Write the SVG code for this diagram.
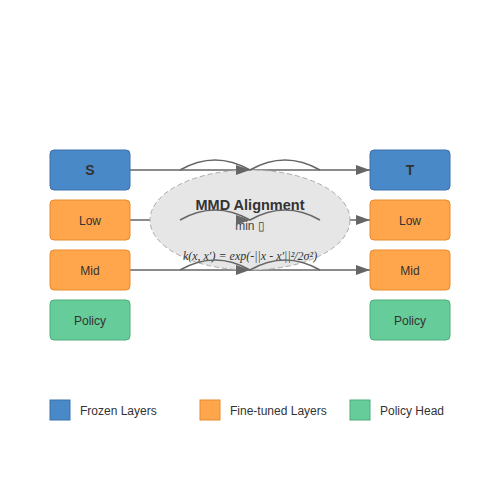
<svg xmlns="http://www.w3.org/2000/svg" width="500" height="500" viewBox="0 0 500 500">
<defs>
<marker id="arr" markerUnits="userSpaceOnUse" markerWidth="14" markerHeight="10" viewBox="0 0 14 10" refX="14" refY="5" orient="auto">
<path d="M0,0 L14,5 L0,10 z" fill="#666"/>
</marker>
</defs>
<style>
.frozen{fill:#4a89c8;stroke:#3b72ab;stroke-width:1}
.tuned{fill:#ffa64d;stroke:#e88a2c;stroke-width:1}
.policy{fill:#66cc99;stroke:#4cae7c;stroke-width:1}
.lbl{font-family:"Liberation Sans",Arial,sans-serif;font-size:12px;fill:#333;text-anchor:middle}
.big{font-size:14px;font-weight:bold}
.leg{font-family:"Liberation Sans",Arial,sans-serif;font-size:12px;fill:#333}
.conn{fill:none;stroke:#666;stroke-width:1.5}
.arc{fill:none;stroke:#666;stroke-width:1.5}
</style>
<rect width="500" height="500" fill="#fff"/>
<g id="connectors">
<line class="conn" x1="130" y1="170" x2="370" y2="170" marker-end="url(#arr)"/>
<line class="conn" x1="130" y1="220" x2="370" y2="220" marker-end="url(#arr)"/>
<line class="conn" x1="130" y1="270" x2="370" y2="270" marker-end="url(#arr)"/>
</g>
<g id="mmd">
<ellipse cx="250" cy="220" rx="100" ry="50" fill="#e6e6e6" stroke="#aaa" stroke-width="1" stroke-dasharray="5,3"/>
<text class="lbl big" x="250" y="210" style="font-size:14.5px">MMD Alignment</text>
<text class="lbl" x="250" y="230" style="fill:#444">min ▯</text>
<text x="250" y="260" style="font-family:'Liberation Serif','Times New Roman',serif;font-style:italic;font-size:12px;fill:#333;text-anchor:middle">k(x, x′) = exp(-||x - x′||²/2σ²)</text>
<path class="arc" d="M180,170 Q215,150 250,170 Q285,150 320,170" marker-mid="url(#arr)"/>
<path class="arc" d="M180,220 Q215,200 250,220 Q285,200 320,220" marker-mid="url(#arr)"/>
<path class="arc" d="M180,270 Q215,250 250,270 Q285,250 320,270" marker-mid="url(#arr)"/>
</g>
<g id="s"><rect class="frozen" x="50" y="150" width="80" height="40" rx="4"/><text class="lbl big" x="90" y="175">S</text></g>
<g id="s-low"><rect class="tuned" x="50" y="200" width="80" height="40" rx="4"/><text class="lbl" x="90" y="225">Low</text></g>
<g id="s-mid"><rect class="tuned" x="50" y="250" width="80" height="40" rx="4"/><text class="lbl" x="90" y="275">Mid</text></g>
<g id="s-policy"><rect class="policy" x="50" y="300" width="80" height="40" rx="4"/><text class="lbl" x="90" y="325">Policy</text></g>
<g id="t"><rect class="frozen" x="370" y="150" width="80" height="40" rx="4"/><text class="lbl big" x="410" y="175">T</text></g>
<g id="t-low"><rect class="tuned" x="370" y="200" width="80" height="40" rx="4"/><text class="lbl" x="410" y="225">Low</text></g>
<g id="t-mid"><rect class="tuned" x="370" y="250" width="80" height="40" rx="4"/><text class="lbl" x="410" y="275">Mid</text></g>
<g id="t-policy"><rect class="policy" x="370" y="300" width="80" height="40" rx="4"/><text class="lbl" x="410" y="325">Policy</text></g>
<g id="legend">
<rect class="frozen" x="50" y="400" width="20" height="20"/><text class="leg" x="80" y="415">Frozen Layers</text>
<rect class="tuned" x="200" y="400" width="20" height="20"/><text class="leg" x="230" y="415">Fine-tuned Layers</text>
<rect class="policy" x="350" y="400" width="20" height="20"/><text class="leg" x="380" y="415">Policy Head</text>
</g>
</svg>
